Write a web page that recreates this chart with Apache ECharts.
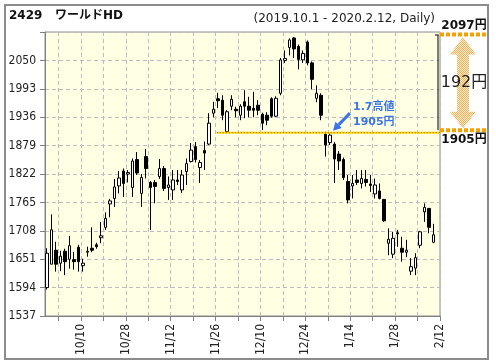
<!DOCTYPE html>
<html><head><meta charset="utf-8">
<script src="https://cdn.jsdelivr.net/npm/echarts@6/dist/echarts.min.js"></script>
<style>html,body{margin:0;padding:0;background:#fff}#c{width:496px;height:364px}</style>
</head><body><div id="c"></div>
<script>
// ---- data ----
const dates = [
 '10/1','10/2','10/3','10/4','10/7','10/8','10/9','10/10','10/11','10/15','10/16','10/17','10/18','10/21','10/23','10/24','10/25','10/28','10/29','10/30','10/31',
 '11/1','11/5','11/6','11/7','11/8','11/11','11/12','11/13','11/14','11/15','11/18','11/19','11/20','11/21','11/22','11/25','11/26','11/27','11/28','11/29',
 '12/2','12/3','12/4','12/5','12/6','12/9','12/10','12/11','12/12','12/13','12/16','12/17','12/18','12/19','12/20','12/23','12/24','12/25','12/26','12/27','12/30',
 '1/6','1/7','1/8','1/9','1/10','1/14','1/15','1/16','1/17','1/20','1/21','1/22','1/23','1/24','1/27','1/28','1/29','1/30','1/31',
 '2/3','2/4','2/5','2/6','2/7','2/10','2/12'
];
const opens  = [1594,1641,1669,1643,1667,1651,1650,1675,1638,1665,1673,1680,1694,1715,1762,1773,1798,1828,1822,1795,1851,1783,1857,1805,1805,1817,1833,1795,1790,1810,1790,1827,1847,1877,1835,1869,1882,1944,1973,1970,1907,1958,1952,1940,1967,1958,1954,1960,1942,1940,1973,1938,1984,2050,2076,2095,2078,2051,2087,2045,1974,1980,1902,1885,1882,1862,1851,1807,1798,1810,1803,1811,1802,1782,1788,1771,1683,1661,1704,1673,1665,1627,1633,1679,1746,1753,1685];
const closes = [1663,1710,1641,1657,1646,1678,1646,1646,1643,1667,1669,1676,1698,1733,1768,1796,1814,1803,1825,1848,1824,1815,1833,1795,1797,1833,1793,1800,1810,1807,1820,1843,1870,1851,1845,1864,1924,1952,1969,1940,1947,1972,1949,1958,1958,1950,1950,1950,1924,1930,1938,1974,2051,2054,2091,2073,2052,2064,2045,2012,1984,1940,1880,1900,1852,1848,1815,1770,1803,1805,1813,1805,1799,1800,1773,1728,1691,1693,1702,1665,1669,1636,1654,1706,1755,1715,1700];
const lows   = [1590,1641,1626,1627,1619,1632,1630,1626,1626,1656,1665,1672,1683,1710,1735,1756,1783,1776,1805,1776,1820,1756,1813,1710,1763,1812,1788,1770,1770,1800,1784,1800,1845,1845,1804,1830,1880,1936,1954,1930,1904,1950,1936,1930,1934,1936,1936,1940,1910,1920,1935,1936,1980,2045,2060,2055,2032,2045,2040,1992,1966,1930,1857,1880,1804,1830,1810,1763,1773,1800,1793,1797,1786,1773,1771,1726,1659,1653,1676,1646,1655,1619,1619,1673,1726,1703,1683];
const highs  = [1673,1741,1686,1668,1672,1698,1666,1680,1652,1676,1715,1684,1726,1745,1772,1812,1828,1833,1830,1853,1866,1822,1872,1808,1810,1852,1838,1817,1830,1830,1830,1853,1884,1886,1850,1887,1944,1967,1985,1980,1950,1980,1957,1962,1990,1977,1987,1970,1945,1946,1976,1978,2055,2070,2094,2097,2082,2070,2090,2048,2000,1984,1907,1905,1886,1868,1855,1820,1820,1830,1830,1830,1820,1813,1803,1771,1713,1706,1710,1696,1690,1653,1663,1708,1763,1753,1722];
const yMin = 1537, yMax = 2107, yStep = 57;
const peakHigh = 2097;      // 期間高値
const refHigh = 1905;       // 1.7高値
const refIdx = 63;          // 1/7
const refLineStartIdx = 38;

const candleData = opens.map((o, i) => [o, closes[i], lows[i], highs[i]]);
const boundaryCats = [''].concat(dates);

const labelFont = "'DejaVu Sans Condensed','Liberation Sans',sans-serif";
const chart = echarts.init(document.getElementById('c'), null, {renderer: 'canvas'});
chart.setOption({
  animation: false,
  backgroundColor: '#ffffff',
  grid: {left: 45, top: 32, width: 395, height: 284, show: true,
         backgroundColor: '#FFFFE3', borderColor: '#8c8c8c', borderWidth: 1},
  xAxis: [
    {type: 'category', data: dates, boundaryGap: true, position: 'top',
     axisLine: {show: false}, axisTick: {show: false}, axisLabel: {show: false}, splitLine: {show: false}},
    {type: 'category', data: boundaryCats, boundaryGap: false, position: 'bottom',
     axisLine: {show: true, lineStyle: {color: '#808080'}},
     axisTick: {show: true, length: 5, interval: (i) => i % 5 === 3, lineStyle: {color: '#808080'}},
     axisLabel: {interval: (i) => i % 10 === 8, rotate: 90, margin: 8, color: '#222',
                 fontSize: 12, fontFamily: labelFont},
     splitLine: {show: true, interval: (i) => i % 5 === 3,
                 lineStyle: {color: '#bdbdbd', type: [4, 3], width: 1}}}
  ],
  yAxis: {type: 'value', min: yMin, max: yMax, interval: yStep, position: 'left',
    axisLine: {show: true, lineStyle: {color: '#808080'}},
    axisTick: {show: true, length: 5, lineStyle: {color: '#808080'}},
    axisLabel: {margin: 9, color: '#222', fontSize: 12, fontFamily: labelFont,
                formatter: (v) => (v >= yMax ? '' : String(v))},
    splitLine: {show: true, lineStyle: {color: '#bdbdbd', type: [4, 3], width: 1}}},
  series: [{
    type: 'candlestick', xAxisIndex: 0, yAxisIndex: 0, data: candleData, barWidth: 3,
    itemStyle: {color: '#ffffff', color0: '#000000', borderColor: '#000000', borderColor0: '#000000', borderWidth: 1}
  }]
});

// ---- annotations ----
const yPeak = chart.convertToPixel({yAxisIndex: 0}, peakHigh);
const yRef = chart.convertToPixel({yAxisIndex: 0}, refHigh);
const xLineStart = chart.convertToPixel({xAxisIndex: 0}, refLineStartIdx) - 1;
const xRef = chart.convertToPixel({xAxisIndex: 0}, refIdx);
const gridRight = 440;

// light orange checker pattern for the double arrow
const pc = document.createElement('canvas'); pc.width = 2; pc.height = 2;
const pctx = pc.getContext('2d');
pctx.fillStyle = '#FFF1DC'; pctx.fillRect(0, 0, 2, 2);
pctx.fillStyle = '#F7AE4E'; pctx.fillRect(0, 0, 1, 1); pctx.fillRect(1, 1, 1, 1);

const ax = 463, headW = 13, shaftW = 6;
const topBase = yPeak + 17.5, botBase = yRef - 21, botTip = yRef - 4.3;
const arrowPts = [[ax, yPeak], [ax - headW, topBase], [ax - shaftW, topBase], [ax - shaftW, botBase],
  [ax - headW, botBase], [ax, botTip], [ax + headW, botBase], [ax + shaftW, botBase],
  [ax + shaftW, topBase], [ax + headW, topBase]];

// blue pointer arrow
const tip = [xRef + 3, yRef - 2];
const tail = [350, yRef - 19.5];
const dx = tip[0] - tail[0], dy = tip[1] - tail[1], L = Math.hypot(dx, dy);
const ux = dx / L, uy = dy / L, nx = -uy, ny = ux;
const hl = 8, hw = 4.5;
const base = [tip[0] - ux * hl, tip[1] - uy * hl];

const blue = '#3b74e6';
const graphics = [
  {type: 'rect', z: 0, shape: {x: 5, y: 5, width: 483, height: 354}, style: {fill: 'none', stroke: '#8c8c8c', lineWidth: 2}},
  {type: 'text', x: 9, y: 16, style: {text: '2429', font: "bold 12px 'DejaVu Sans'", fill: '#111', verticalAlign: 'middle'}},
  {type: 'text', x: 55, y: 16, style: {text: 'ワールドHD', font: "bold 12px 'DejaVu Sans','Noto Sans CJK JP'", fill: '#111', verticalAlign: 'middle'}},
  {type: 'text', x: 435, y: 18.5, style: {text: '(2019.10.1 - 2020.2.12, Daily)', font: "12px 'DejaVu Sans'", fill: '#222', align: 'right', verticalAlign: 'middle'}},
  // 1905 reference line
  {type: 'line', z: 50, shape: {x1: xLineStart, y1: yRef, x2: gridRight, y2: yRef}, style: {stroke: '#FFD400', lineWidth: 2}},
  {type: 'line', z: 51, shape: {x1: xLineStart, y1: yRef, x2: gridRight, y2: yRef}, style: {stroke: '#8a7000', lineWidth: 1, lineDash: [1, 2]}},
  // bracket
  {type: 'line', z: 50, shape: {x1: 438, y1: yPeak - 2, x2: 438, y2: yRef - 2.5}, style: {stroke: '#000', lineWidth: 1}},
  {type: 'line', z: 50, shape: {x1: 435, y1: yPeak - 2, x2: 438.5, y2: yPeak - 2}, style: {stroke: '#000', lineWidth: 1}},
  // orange markers
  {type: 'line', z: 52, shape: {x1: 440, y1: yPeak - 2.5, x2: 487, y2: yPeak - 2.5}, style: {stroke: '#F5A000', lineWidth: 4, lineDash: [4, 2]}},
  {type: 'line', z: 52, shape: {x1: 440, y1: yRef - 2.5, x2: 487, y2: yRef - 2.5}, style: {stroke: '#F5A000', lineWidth: 4, lineDash: [4, 2]}},
  // double arrow
  {type: 'polygon', z: 52, shape: {points: arrowPts}, style: {fill: {image: pc, repeat: 'repeat'}, stroke: 'none'}},
  {type: 'text', z: 53, x: 464, y: (yPeak + yRef) / 2 - 1.5, style: {text: '192円', font: "16px 'DejaVu Sans','Noto Sans CJK JP'", fill: '#222', align: 'center', verticalAlign: 'middle'}},
  {type: 'text', z: 53, x: 464, y: yPeak - 11, style: {text: '2097円', font: "bold 12px 'DejaVu Sans','Noto Sans CJK JP'", fill: '#111', align: 'center', verticalAlign: 'middle'}},
  {type: 'text', z: 53, x: 464, y: yRef + 7.5, style: {text: '1905円', font: "bold 12px 'DejaVu Sans','Noto Sans CJK JP'", fill: '#111', align: 'center', verticalAlign: 'middle'}},
  // blue callout
  {type: 'text', z: 53, x: 353, y: yRef - 25.5, style: {text: '1.7高値', font: "bold 11px 'DejaVu Sans','Noto Sans CJK JP'", fill: blue, verticalAlign: 'middle'}},
  {type: 'text', z: 53, x: 353, y: yRef - 10.5, style: {text: '1905円', font: "bold 11px 'DejaVu Sans','Noto Sans CJK JP'", fill: blue, verticalAlign: 'middle'}},
  {type: 'line', z: 53, shape: {x1: tail[0], y1: tail[1], x2: base[0], y2: base[1]}, style: {stroke: blue, lineWidth: 3}},
  {type: 'polygon', z: 53, shape: {points: [tip, [base[0] + nx * hw, base[1] + ny * hw], [base[0] - nx * hw, base[1] - ny * hw]]}, style: {fill: blue}}
];
chart.setOption({graphic: graphics});
</script>
</body></html>
